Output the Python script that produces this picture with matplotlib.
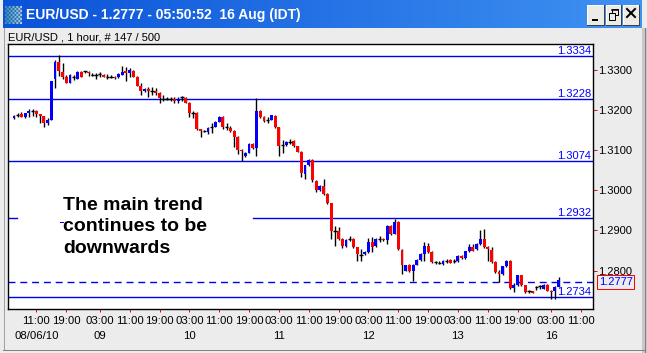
import numpy as np
import matplotlib
matplotlib.use('Agg')
import matplotlib.pyplot as plt
from matplotlib.patches import Rectangle
from matplotlib.lines import Line2D

plt.rcParams['font.family'] = ['Liberation Sans', 'DejaVu Sans']

W, H = 647, 353

# hourly EUR/USD bars, 05:00 06 Aug -> 05:00 16 Aug
opens = [1.3181, 1.3186, 1.3190, 1.3183, 1.3193, 1.3197, 1.3198, 1.3190, 1.3184, 1.3168,
         1.3175, 1.3277, 1.3320, 1.3295, 1.3283, 1.3268, 1.3282, 1.3278, 1.3294, 1.3296,
         1.3295, 1.3288, 1.3286, 1.3289, 1.3287, 1.3283, 1.3282, 1.3283, 1.3281, 1.3288,
         1.3296, 1.3292, 1.3296, 1.3283, 1.3260, 1.3246, 1.3252, 1.3248, 1.3248, 1.3243,
         1.3228, 1.3227, 1.3227, 1.3228, 1.3221, 1.3232, 1.3229, 1.3218, 1.3193, 1.3193,
         1.3152, 1.3148, 1.3144, 1.3156, 1.3158, 1.3171, 1.3183, 1.3158, 1.3156, 1.3148,
         1.3133, 1.3100, 1.3085, 1.3093, 1.3115, 1.3104, 1.3198, 1.3183, 1.3175, 1.3175,
         1.3185, 1.3157, 1.3112, 1.3113, 1.3121, 1.3122, 1.3110, 1.3096, 1.3040, 1.3062,
         1.3075, 1.3023, 1.3000, 1.3010, 1.2990, 1.2967, 1.2898, 1.2898, 1.2879, 1.2860,
         1.2877, 1.2879, 1.2858, 1.2840, 1.2842, 1.2846, 1.2871, 1.2860, 1.2879, 1.2879,
         1.2875, 1.2912, 1.2892, 1.2921, 1.2852, 1.2800, 1.2815, 1.2800, 1.2815, 1.2827,
         1.2842, 1.2860, 1.2846, 1.2821, 1.2820, 1.2817, 1.2823, 1.2827, 1.2825, 1.2824,
         1.2836, 1.2831, 1.2848, 1.2858, 1.2853, 1.2866, 1.2879, 1.2858, 1.2852, 1.2821,
         1.2797, 1.2792, 1.2811, 1.2825, 1.2756, 1.2763, 1.2788, 1.2763, 1.2748, 1.2748,
         1.2758, 1.2761, 1.2755, 1.2764, 1.2750, 1.2750, 1.2760]
highs = [1.3188, 1.3192, 1.3195, 1.3193, 1.3202, 1.3203, 1.3200, 1.3191, 1.3186, 1.3181,
         1.3273, 1.3323, 1.3336, 1.3317, 1.3287, 1.3289, 1.3288, 1.3296, 1.3296, 1.3298,
         1.3298, 1.3292, 1.3293, 1.3295, 1.3289, 1.3289, 1.3286, 1.3285, 1.3291, 1.3310,
         1.3306, 1.3304, 1.3300, 1.3284, 1.3267, 1.3254, 1.3258, 1.3257, 1.3254, 1.3244,
         1.3237, 1.3232, 1.3233, 1.3233, 1.3233, 1.3234, 1.3233, 1.3220, 1.3196, 1.3194,
         1.3153, 1.3150, 1.3158, 1.3168, 1.3173, 1.3185, 1.3186, 1.3168, 1.3160, 1.3149,
         1.3134, 1.3102, 1.3095, 1.3117, 1.3117, 1.3229, 1.3200, 1.3184, 1.3182, 1.3188,
         1.3187, 1.3158, 1.3125, 1.3123, 1.3127, 1.3124, 1.3111, 1.3097, 1.3063, 1.3077,
         1.3077, 1.3025, 1.3012, 1.3029, 1.2992, 1.2968, 1.2910, 1.2908, 1.2881, 1.2879,
         1.2887, 1.2880, 1.2859, 1.2854, 1.2848, 1.2880, 1.2883, 1.2881, 1.2887, 1.2880,
         1.2914, 1.2914, 1.2929, 1.2923, 1.2853, 1.2815, 1.2817, 1.2817, 1.2829, 1.2844,
         1.2871, 1.2868, 1.2848, 1.2825, 1.2823, 1.2827, 1.2828, 1.2830, 1.2829, 1.2838,
         1.2838, 1.2850, 1.2865, 1.2866, 1.2868, 1.2900, 1.2904, 1.2860, 1.2859, 1.2823,
         1.2802, 1.2812, 1.2827, 1.2827, 1.2768, 1.2790, 1.2790, 1.2765, 1.2752, 1.2750,
         1.2762, 1.2764, 1.2766, 1.2766, 1.2752, 1.2762, 1.2785]
lows = [1.3177, 1.3182, 1.3182, 1.3181, 1.3183, 1.3185, 1.3182, 1.3167, 1.3157, 1.3162,
        1.3174, 1.3254, 1.3285, 1.3277, 1.3267, 1.3267, 1.3275, 1.3276, 1.3281, 1.3293,
        1.3285, 1.3285, 1.3277, 1.3282, 1.3282, 1.3277, 1.3279, 1.3277, 1.3279, 1.3287,
        1.3271, 1.3282, 1.3282, 1.3259, 1.3237, 1.3244, 1.3232, 1.3237, 1.3237, 1.3217,
        1.3221, 1.3224, 1.3221, 1.3217, 1.3217, 1.3223, 1.3217, 1.3183, 1.3179, 1.3150,
        1.3133, 1.3145, 1.3140, 1.3142, 1.3157, 1.3170, 1.3152, 1.3150, 1.3146, 1.3108,
        1.3090, 1.3073, 1.3083, 1.3092, 1.3102, 1.3085, 1.3180, 1.3170, 1.3168, 1.3174,
        1.3156, 1.3085, 1.3092, 1.3110, 1.3115, 1.3108, 1.3094, 1.3033, 1.3029, 1.3060,
        1.3020, 1.2995, 1.2998, 1.2988, 1.2965, 1.2879, 1.2862, 1.2877, 1.2855, 1.2858,
        1.2874, 1.2856, 1.2823, 1.2825, 1.2840, 1.2844, 1.2846, 1.2858, 1.2871, 1.2873,
        1.2866, 1.2888, 1.2890, 1.2852, 1.2792, 1.2798, 1.2797, 1.2775, 1.2813, 1.2825,
        1.2825, 1.2844, 1.2819, 1.2817, 1.2817, 1.2815, 1.2818, 1.2818, 1.2820, 1.2822,
        1.2829, 1.2829, 1.2846, 1.2848, 1.2851, 1.2864, 1.2856, 1.2825, 1.2819, 1.2794,
        1.2771, 1.2790, 1.2809, 1.2754, 1.2746, 1.2761, 1.2761, 1.2745, 1.2745, 1.2743,
        1.2752, 1.2754, 1.2753, 1.2748, 1.2729, 1.2729, 1.2758]
closes = [1.3185, 1.3187, 1.3183, 1.3192, 1.3198, 1.3197, 1.3190, 1.3186, 1.3168, 1.3175,
          1.3272, 1.3320, 1.3296, 1.3283, 1.3268, 1.3288, 1.3281, 1.3294, 1.3283, 1.3296,
          1.3293, 1.3288, 1.3286, 1.3289, 1.3283, 1.3283, 1.3282, 1.3280, 1.3289, 1.3295,
          1.3293, 1.3300, 1.3283, 1.3260, 1.3246, 1.3252, 1.3246, 1.3248, 1.3243, 1.3230,
          1.3228, 1.3227, 1.3227, 1.3222, 1.3228, 1.3232, 1.3218, 1.3193, 1.3193, 1.3152,
          1.3148, 1.3148, 1.3156, 1.3157, 1.3171, 1.3183, 1.3158, 1.3158, 1.3148, 1.3133,
          1.3100, 1.3097, 1.3093, 1.3115, 1.3104, 1.3198, 1.3183, 1.3173, 1.3175, 1.3187,
          1.3157, 1.3110, 1.3113, 1.3121, 1.3121, 1.3110, 1.3096, 1.3042, 1.3062, 1.3075,
          1.3025, 1.3000, 1.3010, 1.2990, 1.2967, 1.2898, 1.2899, 1.2879, 1.2860, 1.2877,
          1.2878, 1.2858, 1.2842, 1.2840, 1.2846, 1.2871, 1.2858, 1.2879, 1.2879, 1.2875,
          1.2912, 1.2890, 1.2921, 1.2854, 1.2813, 1.2813, 1.2800, 1.2815, 1.2827, 1.2842,
          1.2860, 1.2846, 1.2821, 1.2821, 1.2820, 1.2825, 1.2823, 1.2820, 1.2825, 1.2836,
          1.2831, 1.2848, 1.2858, 1.2850, 1.2866, 1.2879, 1.2858, 1.2854, 1.2821, 1.2796,
          1.2792, 1.2811, 1.2825, 1.2756, 1.2763, 1.2788, 1.2763, 1.2746, 1.2748, 1.2744,
          1.2758, 1.2761, 1.2764, 1.2750, 1.2746, 1.2760, 1.2777]

# drawn support / resistance levels
levels = [1.3334, 1.3228, 1.3074, 1.2932, 1.2734]
last_price = 1.2777
price_line = 1.2772

# time axis (bar index of each label)
time_pos = [6, 14, 23, 31, 39, 47, 55, 63, 71, 79, 87, 95, 103, 111, 119, 127, 135, 144, 152]
time_labels = ['11:00', '19:00', '03:00', '11:00', '19:00', '03:00', '11:00', '19:00',
               '03:00', '11:00', '19:00', '03:00', '11:00', '19:00', '03:00', '11:00',
               '19:00', '03:00', '11:00']
date_pos = [6, 23, 47, 71, 95, 119, 144]
date_labels = ['08/06/10', '09', '10', '11', '12', '13', '16']
price_ticks = [1.28, 1.29, 1.30, 1.31, 1.32, 1.33]

BG = '#ECECEC'
PX = 0.72  # one pixel in points


def fx(x):
    return x / W


def fy(y):
    return 1 - y / H


def draw_window(fig):
    """window frame, title bar and buttons"""
    tb = fig.add_axes([fx(3), fy(28), fx(639), 28 / H])
    grad = np.linspace(0, 1, 256).reshape(1, -1)
    cmap = matplotlib.colors.LinearSegmentedColormap.from_list('tb', ['#0A52D8', '#3F92F2'])
    tb.imshow(grad, aspect='auto', cmap=cmap, extent=[0, 1, 0, 1])
    tb.set_axis_off()

    # little dotted icon
    ic = fig.add_axes([fx(5), fy(24), fx(17), 18 / H])
    yy, xx = np.mgrid[0:9, 0:9]
    dots = np.where((xx + yy) % 2 == 0, 0.25 + 0.6 * (xx / 8.0), 0.0)
    ic.imshow(dots, cmap='Blues_r', aspect='auto', vmin=-0.3, vmax=1.2)
    ic.set_axis_off()

    fig.text(fx(26), fy(15), 'EUR/USD - 1.2777 - 05:50:52  16 Aug (IDT)', color='white',
             fontsize=10, fontweight='bold', va='center', ha='left')

    for x0, x1 in [(587, 604), (606, 621), (623, 639)]:
        fig.patches.append(Rectangle((fx(x0), fy(25)), fx(x1 - x0), 20 / H,
                                     transform=fig.transFigure, fc='#ECEBE6', ec='none'))
        fig.lines.append(Line2D([fx(x0), fx(x0), fx(x1)], [fy(25), fy(5), fy(5)],
                                transform=fig.transFigure, color='white', lw=PX))
        fig.lines.append(Line2D([fx(x0), fx(x1), fx(x1)], [fy(25), fy(25), fy(5)],
                                transform=fig.transFigure, color='#404040', lw=PX))
    # minimize
    fig.patches.append(Rectangle((fx(592), fy(21)), fx(6), 2 / H, transform=fig.transFigure,
                                 fc='black', ec='none'))
    # restore
    fig.patches.append(Rectangle((fx(612), fy(15)), fx(6), 6 / H, transform=fig.transFigure,
                                 fc='none', ec='black', lw=PX))
    fig.patches.append(Rectangle((fx(609), fy(20)), fx(6), 7 / H, transform=fig.transFigure,
                                 fc='#ECEBE6', ec='black', lw=PX))
    fig.lines.append(Line2D([fx(612), fx(618)], [fy(9.5), fy(9.5)], transform=fig.transFigure,
                            color='black', lw=1.5 * PX))
    # close
    fig.lines.append(Line2D([fx(627), fx(635)], [fy(9), fy(17)], transform=fig.transFigure,
                            color='black', lw=2 * PX))
    fig.lines.append(Line2D([fx(627), fx(635)], [fy(17), fy(9)], transform=fig.transFigure,
                            color='black', lw=2 * PX))

    # frame edges
    fig.patches.append(Rectangle((fx(642), 0), fx(5), fy(28), transform=fig.transFigure,
                                 fc='#C8C8C8', ec='none'))
    fig.lines.append(Line2D([fx(644.5), fx(644.5)], [0, fy(28)], transform=fig.transFigure,
                            color='#808080', lw=PX))
    fig.lines.append(Line2D([fx(3.5), fx(3.5)], [fy(349), fy(28)], transform=fig.transFigure,
                            color='#A0A0A0', lw=PX))
    fig.lines.append(Line2D([fx(3), fx(644)], [fy(349.5), fy(349.5)], transform=fig.transFigure,
                            color='#808080', lw=PX))

    fig.text(fx(8), fy(37), 'EUR/USD , 1 hour, # 147 / 500', fontsize=8, va='center', ha='left')


def draw_candles(ax):
    idx = np.arange(len(closes))
    o = np.array(opens)
    h = np.array(highs)
    l = np.array(lows)
    c = np.array(closes)
    up = c - o > 0.0001
    down = o - c > 0.0001
    doji = ~(up | down)

    ax.vlines(idx, l, h, color='black', lw=1.0, zorder=3)
    ax.bar(idx[up], np.maximum(c - o, 0.0002)[up], bottom=o[up], width=0.78,
           color='#0000FF', lw=0, zorder=4)
    ax.bar(idx[down], np.maximum(o - c, 0.0002)[down], bottom=c[down], width=0.78,
           color='#FF0000', lw=0, zorder=4)
    ax.hlines(c[doji], idx[doji] - 0.45, idx[doji] + 0.45, color='black', lw=1.0, zorder=4)


fig = plt.figure(figsize=(W / 100, H / 100), dpi=100, facecolor=BG)
draw_window(fig)

ax = fig.add_axes([fx(8.3), fy(309), fx(593 - 8.3), (309 - 44) / H])
ax.set_facecolor('white')
draw_candles(ax)

ax.set_xlim(-1.53, 155.2)
ax.set_ylim(1.27044, 1.33640)

# levels with their labels
for v in levels:
    if v == 1.2932:
        # the text box hides the middle of this one
        ax.axhline(v, xmin=0, xmax=(17 - 8.3) / 584.7, color='#0000F0', lw=1.0, zorder=2)
        ax.axhline(v, xmin=(253 - 8.3) / 584.7, xmax=1, color='#0000F0', lw=1.0, zorder=2)
        ax.plot([(59.5 - 8.3) / 584.7, (63 - 8.3) / 584.7], [v - 0.0011, v - 0.0011],
                transform=ax.get_yaxis_transform(), color='#0000F0', lw=PX)
    else:
        ax.axhline(v, color='#0000F0', lw=1.0, zorder=2)
    ax.annotate('%.4f' % v, xy=(1, v), xycoords=('axes fraction', 'data'),
                xytext=(-1.2, 1.2), textcoords='offset points', ha='right', va='baseline',
                fontsize=8, color='#0000FF', zorder=5)

ax.axhline(price_line, color='#0000F0', lw=1.0, ls=(0, (5, 3.5)), zorder=2)
ax.annotate('%.4f' % last_price, xy=(1, price_line), xycoords=('axes fraction', 'data'),
            xytext=(4.2, 0), textcoords='offset points', ha='left', va='center',
            fontsize=8, color='#0000FF', annotation_clip=False,
            bbox=dict(boxstyle='square,pad=0.15', fc='none', ec='#FF0000', lw=PX))

# right price axis
ax.yaxis.tick_right()
ax.set_yticks(price_ticks)
ax.set_yticklabels(['%.4f' % t for t in price_ticks])
ax.tick_params(axis='y', direction='out', length=3, width=PX, color='#FF0000',
               labelsize=8, pad=1)

# time axis
ax.set_xticks(time_pos)
ax.set_xticklabels(time_labels)
ax.tick_params(axis='x', direction='out', length=2.2, width=PX, color='#FF0000',
               labelsize=8.2, pad=2.6)
for p, lab in zip(date_pos, date_labels):
    ax.annotate(lab, xy=(p, 0), xycoords=('data', 'axes fraction'), xytext=(0, -19.6),
                textcoords='offset points', ha='center', va='center', fontsize=8.2,
                annotation_clip=False)

for s in ax.spines.values():
    s.set_linewidth(1.0)
    s.set_color('black')

# comment text
for k, line in enumerate(['The main trend', 'continues to be', 'downwards']):
    fig.text(fx(63), fy(210 + 21.3 * k), line, fontsize=14, fontweight='bold',
             ha='left', va='baseline')

fig.savefig('out.png', dpi=100, facecolor=BG)
